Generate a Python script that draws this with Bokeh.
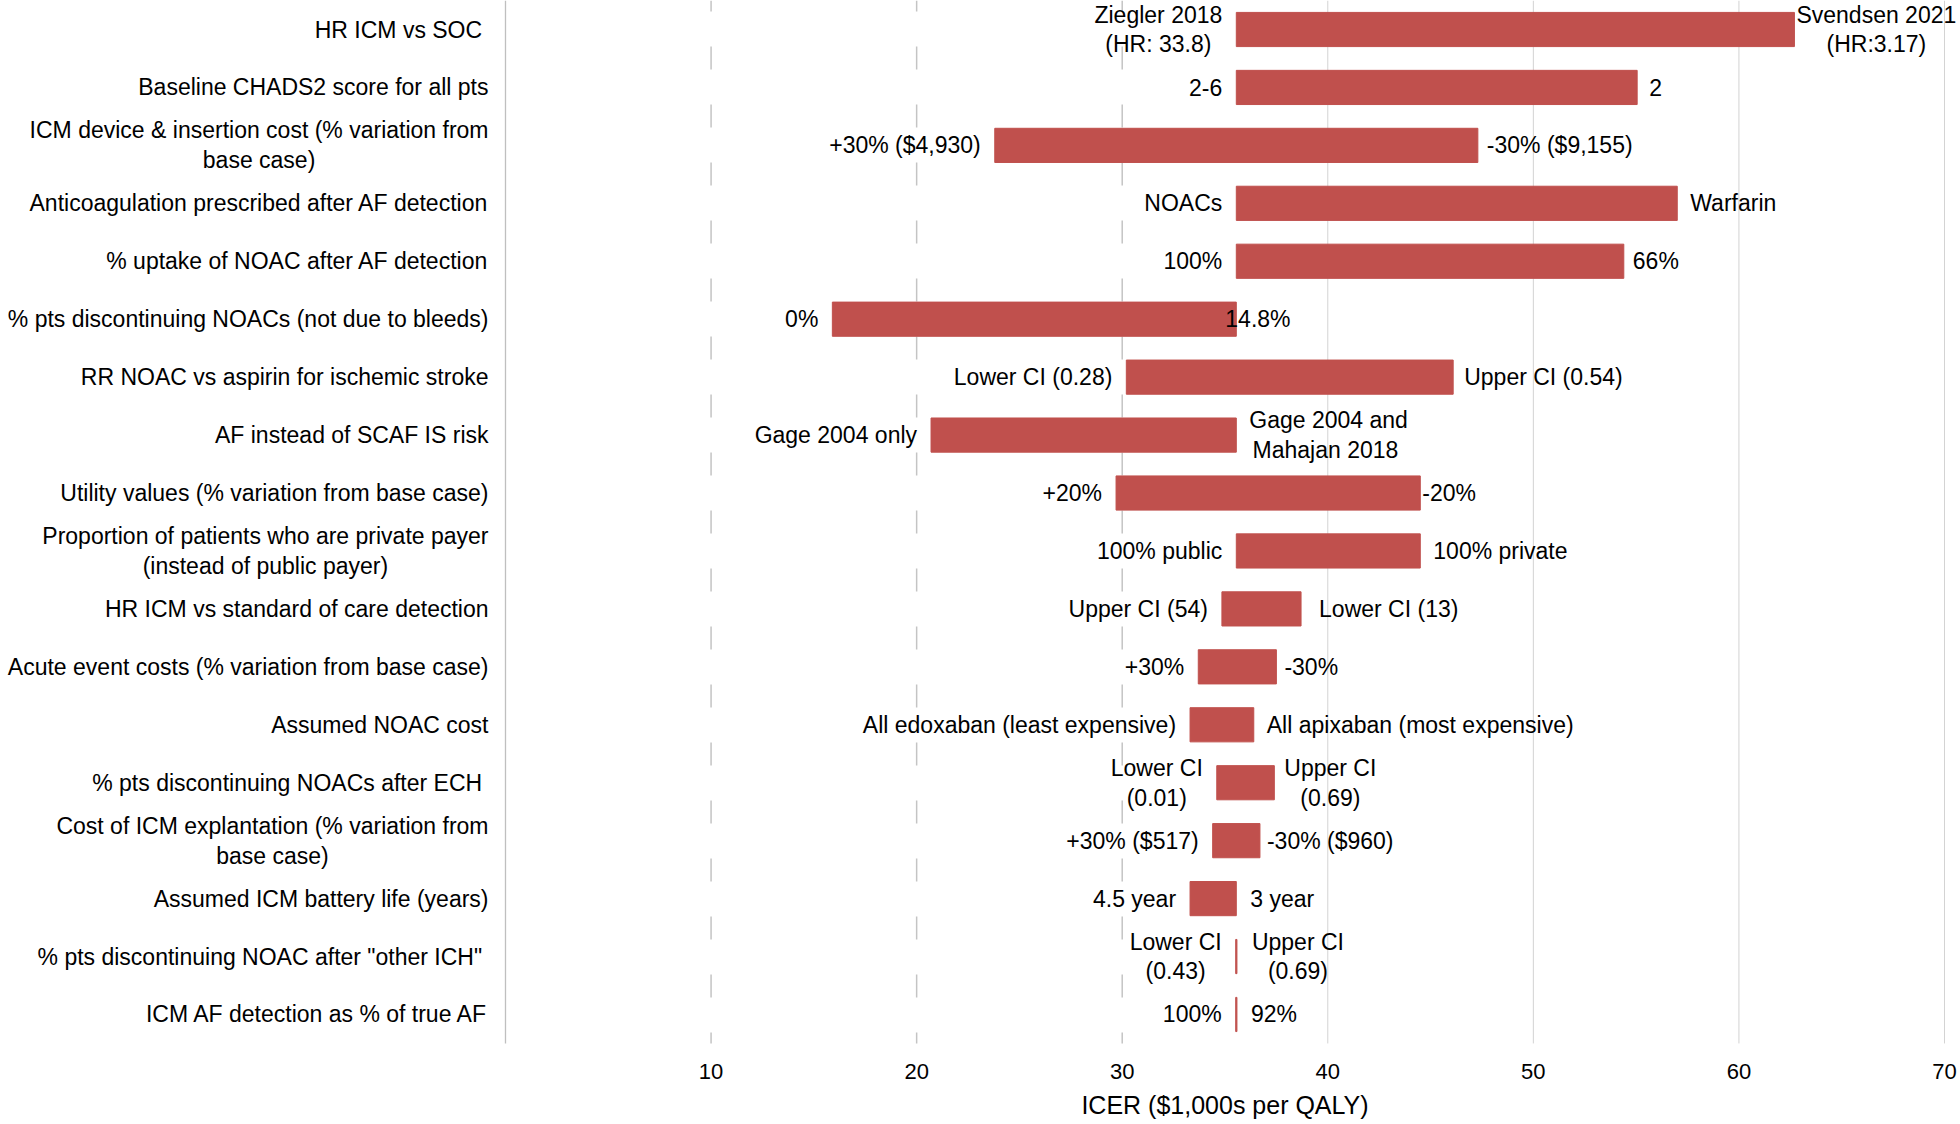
from bokeh.plotting import figure
from bokeh.models import Range1d, ColumnDataSource
from bokeh.core.properties import value
from bokeh.embed import file_html
from bokeh.resources import INLINE

# ---------------- data ----------------
categories = [
    "HR ICM vs SOC ",
    "Baseline CHADS2 score for all pts",
    "ICM device & insertion cost (% variation from\nbase case)",
    "Anticoagulation prescribed after AF detection",
    "% uptake of NOAC after AF detection",
    "% pts discontinuing NOACs (not due to bleeds)",
    "RR NOAC vs aspirin for ischemic stroke",
    "AF instead of SCAF IS risk",
    "Utility values (% variation from base case)",
    "Proportion of patients who are private payer\n(instead of public payer)",
    "HR ICM vs standard of care detection",
    "Acute event costs (% variation from base case)",
    "Assumed NOAC cost",
    "% pts discontinuing NOACs after ECH ",
    "Cost of ICM explantation (% variation from\nbase case)",
    "Assumed ICM battery life (years)",
    "% pts discontinuing NOAC after \"other ICH\" ",
    "ICM AF detection as % of true AF",
]
icer_low = [35.55, 35.55, 23.8, 35.55, 35.55, 15.9, 30.2, 20.7, 29.7,
            35.55, 34.85, 33.7, 33.3, 34.6, 34.4, 33.3, 35.52, 35.52]
icer_high = [62.7, 55.05, 47.3, 57.0, 54.4, 35.55, 46.1, 35.55, 44.5,
             44.5, 38.7, 37.5, 36.4, 37.4, 36.7, 35.55, 35.58, 35.58]
left_labels = ["Ziegler 2018\n(HR: 33.8)", "2-6", "+30% ($4,930)", "NOACs", "100%", "0%",
               "Lower CI (0.28)", "Gage 2004 only", "+20%", "100% public", "Upper CI (54)",
               "+30%", "All edoxaban (least expensive)", "Lower CI\n(0.01)", "+30% ($517)",
               "4.5 year", "Lower CI\n(0.43)", "100%"]
right_labels = ["Svendsen 2021\n(HR:3.17)", "2", "-30% ($9,155)", "Warfarin", "66%", "14.8%",
                "Upper CI (0.54)", "Gage 2004 and\nMahajan  2018", "-20%", "100% private",
                "Lower CI (13)", "-30%", "All apixaban (most expensive)", "Upper CI\n(0.69)",
                "-30% ($960)", "3 year", "Upper CI\n(0.69)", "92%"]
x_ticks = [10, 20, 30, 40, 50, 60, 70]
x_title = "ICER ($1,000s per QALY)"

# ---------------- styles ----------------
FONT = value("Liberation Sans")
LABEL_SIZE = value("23px")
BAR_COLOR = "#C0504D"
dashed_ticks = [10, 20, 30]
solid_ticks = [40, 50, 60, 70]
left_gap = -14
right_gap = [2, 12, 9, 13, 9, -11, 11, 13, 2, 13, 18, 8, 13, 10, 7, 14, 15, 14]

n = len(categories)
rows = [i + 0.5 for i in range(n)]
src = ColumnDataSource(dict(y=rows, low=icer_low, high=icer_high,
                            cat=categories, left=left_labels, right=right_labels,
                            rgap=right_gap))

W, H = 1960, 1124
# frame covers the whole canvas; data 0 -> px 505, data 70 -> px 1944
px_per_unit = (1944 - 505) / 70.0
x0 = -505 / px_per_unit
x1 = x0 + W / px_per_unit
row_px = 57.94
y_top = 0.5 - 29 / row_px
y_bot = y_top + H / row_px

p = figure(width=W, height=H, x_range=Range1d(x0, x1), y_range=Range1d(y_bot, y_top),
           output_backend="svg", toolbar_location=None,
           x_axis_location=None, y_axis_location=None,
           min_border_left=0, min_border_right=0, min_border_top=0, min_border_bottom=0)
p.outline_line_color = None
p.grid.visible = False
p.background_fill_color = "white"
p.border_fill_color = "white"

# grid lines (spanning the category rows)
p.segment(x0=dashed_ticks, x1=dashed_ticks, y0=[0] * len(dashed_ticks), y1=[n] * len(dashed_ticks),
          line_color="#C4C4C4", line_width=1.5, line_dash="23 35", line_dash_offset=12)
p.segment(x0=solid_ticks, x1=solid_ticks, y0=[0] * len(solid_ticks), y1=[n] * len(solid_ticks),
          line_color="#D3D3D3", line_width=1)
# vertical axis line at 0
p.segment(x0=[0], x1=[0], y0=[0], y1=[n], line_color="#BFBFBF", line_width=1.3)

# bars
p.hbar(y="y", left="low", right="high", height=0.59, source=src,
       fill_color=BAR_COLOR, line_color=BAR_COLOR, line_width=1)

common = dict(text_font=FONT, text_font_size=LABEL_SIZE, text_color="#000000",
              text_line_height=1.15, text_align=value("center"))

# category labels
p.text(x=0, y="y", text="cat", source=src, anchor=value("center_right"),
       x_offset=-17, **common)
# bar end labels
p.text(x="low", y="y", text="left", source=src, anchor=value("center_right"),
       x_offset=left_gap, **common)
p.text(x="high", y="y", text="right", source=src, anchor=value("center_left"),
       x_offset="rgap", **common)

# x tick labels and title
p.text(x=x_ticks, y=[n] * len(x_ticks), text=[str(t) for t in x_ticks],
       anchor=value("center"), y_offset=28, text_font=FONT, text_font_size=value("22px"),
       text_color="#000000", text_align=value("center"))
p.text(x=[(0 + x_ticks[-1]) / 2], y=[n], text=[x_title],
       anchor=value("center"), y_offset=62, text_font=FONT, text_font_size=value("25px"),
       text_color="#000000", text_align=value("center"))

open("out.html", "w").write(file_html(p, INLINE))
